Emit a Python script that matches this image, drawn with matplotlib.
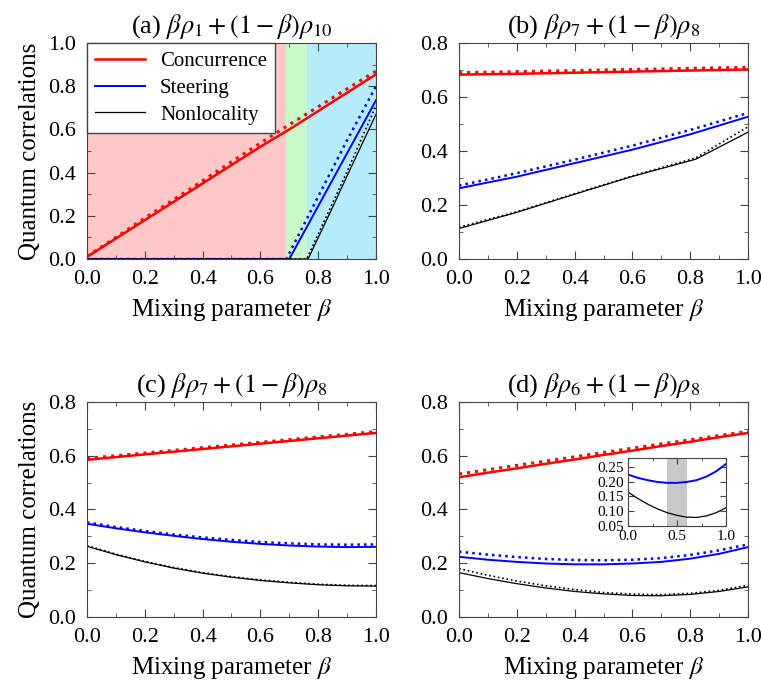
import matplotlib
matplotlib.use("Agg")
import matplotlib.pyplot as plt
from matplotlib.ticker import MultipleLocator, FormatStrFormatter

plt.rcParams["font.family"] = ["Liberation Serif", "DejaVu Serif"]
plt.rcParams["mathtext.fontset"] = "stix"

# ---- data ----
beta = [0.0, 0.1, 0.2, 0.3, 0.4, 0.5, 0.6, 0.7, 0.8, 0.9, 1.0]
beta6 = [0.0, 0.2, 0.4, 0.6, 0.8, 1.0]

# (a) beta rho1 + (1-beta) rho10
a_conc = [0.010, 0.095, 0.180, 0.265, 0.350, 0.435, 0.520, 0.600, 0.685, 0.770, 0.855]
a_conc_dot = [0.012, 0.100, 0.190, 0.275, 0.362, 0.450, 0.537, 0.622, 0.705, 0.788, 0.870]
a_steer_x = [0.0, 0.70, 0.80, 0.90, 1.0]
a_steer = [0.0, 0.0, 0.245, 0.490, 0.735]
a_steer_dot_x = [0.0, 0.69, 0.80, 0.90, 1.0]
a_steer_dot = [0.0, 0.0, 0.290, 0.550, 0.800]
a_nl_x = [0.0, 0.765, 0.85, 0.90, 1.0]
a_nl = [0.0, 0.0, 0.240, 0.385, 0.670]
a_nl_dot_x = [0.0, 0.76, 0.85, 0.90, 1.0]
a_nl_dot = [0.0, 0.0, 0.260, 0.405, 0.710]
a_regions = [0.0, 0.69, 0.76, 1.0]
a_region_colors = ["#ffc8c8", "#c8fac8", "#b4ecfa"]

# (b) beta rho7 + (1-beta) rho8
b_conc = [0.683, 0.686, 0.690, 0.694, 0.698, 0.702]
b_conc_dot = [0.690, 0.694, 0.698, 0.702, 0.706, 0.710]
b_steer = [0.262, 0.305, 0.355, 0.405, 0.462, 0.527]
b_steer_dot = [0.272, 0.318, 0.368, 0.420, 0.478, 0.541]
b_nl_x = [0.0, 0.2, 0.4, 0.6, 0.82, 1.0]
b_nl = [0.113, 0.173, 0.240, 0.306, 0.370, 0.470]
b_nl_dot = [0.118, 0.175, 0.242, 0.308, 0.375, 0.490]

# (c) beta rho7 + (1-beta) rho8
c_conc = [0.585, 0.595, 0.605, 0.615, 0.625, 0.635, 0.645, 0.655, 0.665, 0.675, 0.685]
c_conc_dot = [0.590, 0.600, 0.610, 0.620, 0.630, 0.640, 0.650, 0.660, 0.670, 0.680, 0.690]
c_steer = [0.347, 0.330, 0.315, 0.302, 0.290, 0.280, 0.272, 0.266, 0.262, 0.260, 0.261]
c_steer_dot = [0.352, 0.335, 0.320, 0.307, 0.296, 0.287, 0.279, 0.274, 0.270, 0.269, 0.270]
c_nl = [0.263, 0.232, 0.205, 0.182, 0.163, 0.148, 0.136, 0.127, 0.120, 0.116, 0.115]
c_nl_dot = [0.266, 0.234, 0.207, 0.184, 0.165, 0.150, 0.138, 0.129, 0.122, 0.118, 0.117]

# (d) beta rho6 + (1-beta) rho8
d_conc = [0.520, 0.537, 0.553, 0.570, 0.586, 0.603, 0.619, 0.636, 0.652, 0.669, 0.685]
d_conc_dot = [0.532, 0.548, 0.564, 0.580, 0.596, 0.612, 0.628, 0.644, 0.659, 0.675, 0.691]
d_steer = [0.224, 0.213, 0.205, 0.199, 0.196, 0.196, 0.199, 0.205, 0.217, 0.235, 0.260]
d_steer_dot = [0.243, 0.232, 0.223, 0.216, 0.212, 0.211, 0.213, 0.219, 0.231, 0.248, 0.270]
d_nl = [0.165, 0.143, 0.124, 0.108, 0.095, 0.086, 0.080, 0.079, 0.084, 0.095, 0.112]
d_nl_dot = [0.180, 0.155, 0.134, 0.116, 0.102, 0.091, 0.085, 0.083, 0.088, 0.099, 0.118]
d_inset_band = [0.40, 0.60]

C_RED = "#ff0000"
C_BLUE = "#0000ff"
C_BLK = "#000000"
SPINE = "#444444"

fig = plt.figure(figsize=(7.61, 6.86), dpi=100)
ax_a = fig.add_axes([0.1143, 0.6224, 0.3798, 0.3149])
ax_b = fig.add_axes([0.6032, 0.6224, 0.3798, 0.3149])
ax_c = fig.add_axes([0.1143, 0.1006, 0.3798, 0.3134])
ax_d = fig.add_axes([0.6032, 0.1006, 0.3798, 0.3134])


def style(ax, ymax, ylabel=True):
    ax.set_xlim(0, 1)
    ax.set_ylim(0, ymax)
    ax.xaxis.set_major_locator(MultipleLocator(0.2))
    ax.xaxis.set_minor_locator(MultipleLocator(0.1))
    ax.yaxis.set_major_locator(MultipleLocator(0.2))
    ax.yaxis.set_minor_locator(MultipleLocator(0.1))
    ax.tick_params(which="both", direction="in", top=True, right=True,
                   color=SPINE, labelsize=16, pad=8)
    ax.tick_params(which="major", length=6)
    ax.tick_params(which="minor", length=3)
    for s in ax.spines.values():
        s.set_color(SPINE)
    ax.set_xlabel(r"Mixing parameter $\beta$", fontsize=18, labelpad=6)
    if ylabel:
        ax.set_ylabel("Quantum correlations", fontsize=18, labelpad=5)


def curves(ax, x, conc, conc_dot, steer, steer_dot, nl, nl_dot,
           xs=None, xsd=None, xn=None, xnd=None):
    xs = x if xs is None else xs
    xsd = x if xsd is None else xsd
    xn = x if xn is None else xn
    xnd = x if xnd is None else xnd
    ax.plot(x, conc_dot, ":", color=C_RED, lw=2.2)
    ax.plot(x, conc, "-", color=C_RED, lw=1.8, label="Concurrence")
    ax.plot(xsd, steer_dot, ":", color=C_BLUE, lw=1.8)
    ax.plot(xs, steer, "-", color=C_BLUE, lw=1.4, label="Steering")
    ax.plot(xnd, nl_dot, ":", color=C_BLK, lw=1.2)
    ax.plot(xn, nl, "-", color=C_BLK, lw=0.9, label="Nonlocality")


# (a)
for i, col in enumerate(a_region_colors):
    ax_a.axvspan(a_regions[i], a_regions[i + 1], color=col, lw=0, zorder=0)
curves(ax_a, beta, a_conc, a_conc_dot, a_steer, a_steer_dot, a_nl, a_nl_dot,
       xs=a_steer_x, xsd=a_steer_dot_x, xn=a_nl_x, xnd=a_nl_dot_x)
style(ax_a, 1.0)
ax_a.set_title(r"(a) $\beta\rho_1+(1-\beta)\rho_{10}$", fontsize=19, pad=7)
leg = ax_a.legend(loc="upper left", fontsize=15, frameon=True, fancybox=False,
                  borderaxespad=0, handlelength=2.4, labelspacing=0.35,
                  borderpad=0.4, handletextpad=0.7)
leg.get_frame().set_edgecolor(SPINE)
leg.get_frame().set_linewidth(1.0)
leg.get_frame().set_alpha(1)

# (b)
ax_b.plot(beta6, b_conc_dot, ":", color=C_RED, lw=2.2)
ax_b.plot(beta6, b_conc, "-", color=C_RED, lw=1.8)
ax_b.plot(beta6, b_steer_dot, ":", color=C_BLUE, lw=1.8)
ax_b.plot(beta6, b_steer, "-", color=C_BLUE, lw=1.4)
ax_b.plot(b_nl_x, b_nl_dot, ":", color=C_BLK, lw=1.2)
ax_b.plot(b_nl_x, b_nl, "-", color=C_BLK, lw=0.9)
style(ax_b, 0.8, ylabel=False)
ax_b.set_title(r"(b) $\beta\rho_7+(1-\beta)\rho_8$", fontsize=19, pad=7)

# (c)
curves(ax_c, beta, c_conc, c_conc_dot, c_steer, c_steer_dot, c_nl, c_nl_dot)
style(ax_c, 0.8)
ax_c.set_title(r"(c) $\beta\rho_7+(1-\beta)\rho_8$", fontsize=19, pad=7)

# (d)
curves(ax_d, beta, d_conc, d_conc_dot, d_steer, d_steer_dot, d_nl, d_nl_dot)
style(ax_d, 0.8, ylabel=False)
ax_d.set_title(r"(d) $\beta\rho_6+(1-\beta)\rho_8$", fontsize=19, pad=7)

ins = fig.add_axes([628 / 761, 1 - 526 / 686, 98 / 761, 68 / 686])
ins.axvspan(d_inset_band[0], d_inset_band[1], color="#c8c8c8", lw=0, zorder=0)
ins.plot(beta, d_steer, "-", color=C_BLUE, lw=1.4)
ins.plot(beta, d_nl, "-", color=C_BLK, lw=0.9)
ins.set_xlim(0, 1)
ins.set_ylim(0.05, 0.28)
ins.xaxis.set_major_locator(MultipleLocator(0.5))
ins.xaxis.set_minor_locator(MultipleLocator(0.25))
ins.yaxis.set_major_locator(MultipleLocator(0.05))
ins.yaxis.set_major_formatter(FormatStrFormatter("%.2f"))
ins.xaxis.set_major_formatter(FormatStrFormatter("%.1f"))
ins.tick_params(which="both", direction="in", top=True, right=True,
                color=SPINE, labelsize=11, pad=3)
ins.tick_params(which="major", length=4)
ins.tick_params(which="minor", length=2)
for s in ins.spines.values():
    s.set_color(SPINE)

fig.savefig("out.png", dpi=100, facecolor="white")
